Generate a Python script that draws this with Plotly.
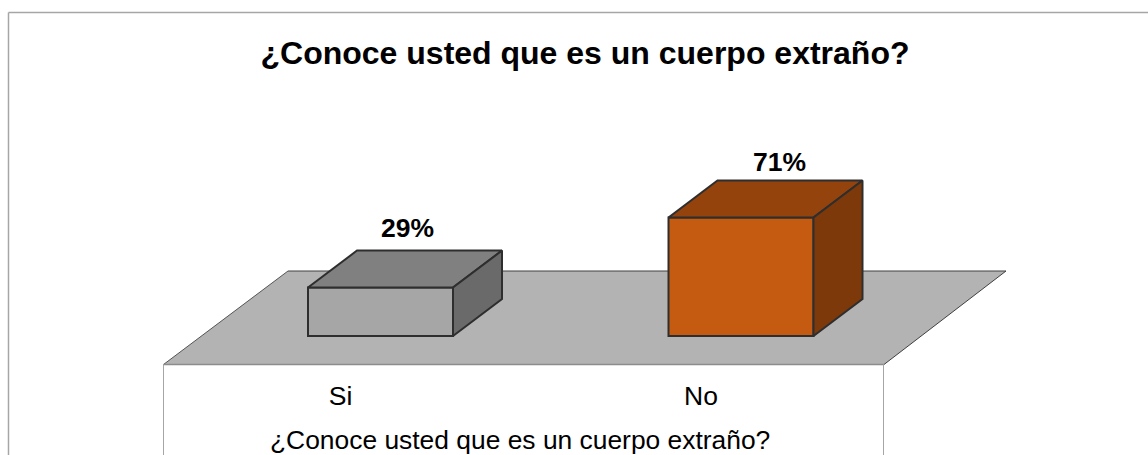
import plotly.graph_objects as go

# Survey results
categories = ["Si", "No"]
values = [29, 71]
value_labels = ["29%", "71%"]
chart_title = "¿Conoce usted que es un cuerpo extraño?"

front_colors = ["#a6a6a6", "#c55a11"]
top_colors = ["#808080", "#94430c"]
side_colors = ["#6a6a6a", "#7e390a"]

W, H = 1148, 455
FONT = "Liberation Sans, Arial, sans-serif"

# Plot box in pixels and the scale of each axis
LEFT, RIGHT, TOP, BOTTOM = 100, 1100, 120, 366
PX_PER_CATEGORY = 360.5
PX_PER_PERCENT = 1.67
X0_PX, Y0_PX = 380.5, 336   # category 0 centre, bar base

x_range = [(LEFT - X0_PX) / PX_PER_CATEGORY, (RIGHT - X0_PX) / PX_PER_CATEGORY]
y_range = [(Y0_PX - BOTTOM) / PX_PER_PERCENT, (Y0_PX - TOP) / PX_PER_PERCENT]

BAR_WIDTH = 145 / PX_PER_CATEGORY
DEPTH_X = 49 / PX_PER_CATEGORY
DEPTH_Y = 37 / PX_PER_PERCENT
OUTLINE = dict(color="#2e2e2e", width=2)


def px(x):
    return (x - LEFT) / (RIGHT - LEFT)


def py(y):
    return (BOTTOM - y) / (BOTTOM - TOP)


def path(points):
    return "M " + " L ".join(f"{px(x):.5f} {py(y):.5f}" for x, y in points) + " Z"


def seg(x0, y0, x1, y1, color, width):
    return dict(type="line", xref="paper", yref="paper", layer="below",
                x0=px(x0), y0=py(y0), x1=px(x1), y1=py(y1),
                line=dict(color=color, width=width))


shapes = [
    # floor of the 3D scene
    dict(type="path", xref="paper", yref="paper", layer="below",
         path=path([(163.5, 364.5), (288, 271), (1006, 271), (884, 364.5)]),
         fillcolor="#b3b3b3", line=dict(width=0)),
    seg(163.5, 364.5, 288, 271, "#555555", 1),
    seg(288, 271, 1006, 271, "#404040", 1),
    seg(1006, 271, 884, 364.5, "#404040", 1),
    seg(163.5, 364.5, 884, 364.5, "#8c8c8c", 1.5),
    # front wall edges below the floor
    seg(163.5, 364.5, 163.5, 455, "#a6a6a6", 1),
    seg(883.5, 364.5, 883.5, 455, "#a6a6a6", 1),
    # chart frame
    seg(8.5, 12.5, 1148, 12.5, "#a6a6a6", 1.5),
    seg(8.5, 12.5, 8.5, 455, "#a6a6a6", 1.5),
]

fig = go.Figure()

# Front faces
fig.add_trace(go.Bar(
    x=list(range(len(categories))), y=values, width=BAR_WIDTH,
    marker=dict(color=front_colors, line=OUTLINE), showlegend=False,
))

# Top and side faces, offset from each bar by the scene depth
for i, v in enumerate(values):
    l, r = i - BAR_WIDTH / 2, i + BAR_WIDTH / 2
    fig.add_trace(go.Scatter(
        x=[l, r, r + DEPTH_X, l + DEPTH_X, l],
        y=[v, v, v + DEPTH_Y, v + DEPTH_Y, v],
        mode="lines", fill="toself", fillcolor=top_colors[i],
        line=OUTLINE, showlegend=False,
    ))
    fig.add_trace(go.Scatter(
        x=[r, r + DEPTH_X, r + DEPTH_X, r, r],
        y=[0, DEPTH_Y, v + DEPTH_Y, v, 0],
        mode="lines", fill="toself", fillcolor=side_colors[i],
        line=OUTLINE, showlegend=False,
    ))

# Value labels above each bar
label_shift = [26.5, 38.5]
label_lift = [23, 18]
annotations = [
    dict(x=i, y=values[i] + DEPTH_Y, text=value_labels[i], showarrow=False,
         xshift=label_shift[i], yshift=label_lift[i], xanchor="center", yanchor="middle",
         font=dict(family=FONT, size=26.5, color="#000000", weight="bold"))
    for i in range(len(values))
]

# Axis caption, centred under the two category labels
annotations.append(dict(
    xref="paper", yref="paper", x=px(520), y=py(440), text=chart_title, showarrow=False,
    xanchor="center", yanchor="middle",
    font=dict(family=FONT, size=26.4, color="#000000"),
))

# Category labels sit to the left of their bars
tick_positions = [i - 40 / PX_PER_CATEGORY for i in range(len(categories))]

fig.update_layout(
    width=W, height=H,
    margin=dict(l=LEFT, r=W - RIGHT, t=TOP, b=H - BOTTOM, pad=0),
    paper_bgcolor="#ffffff", plot_bgcolor="rgba(0,0,0,0)",
    title=dict(text=chart_title, x=585 / W, y=1 - 52.5 / H, xref="container", yref="container",
               xanchor="center", yanchor="middle",
               font=dict(family=FONT, size=32, color="#000000", weight="bold")),
    xaxis=dict(range=x_range, tickmode="array", tickvals=tick_positions, ticktext=categories,
               showgrid=False, zeroline=False, showline=False, ticks="",
               ticklabelstandoff=11, automargin=False,
               tickfont=dict(family=FONT, size=26.5, color="#000000")),
    yaxis=dict(range=y_range, visible=False),
    shapes=shapes, annotations=annotations, showlegend=False,
)

fig.write_html("out.html")
